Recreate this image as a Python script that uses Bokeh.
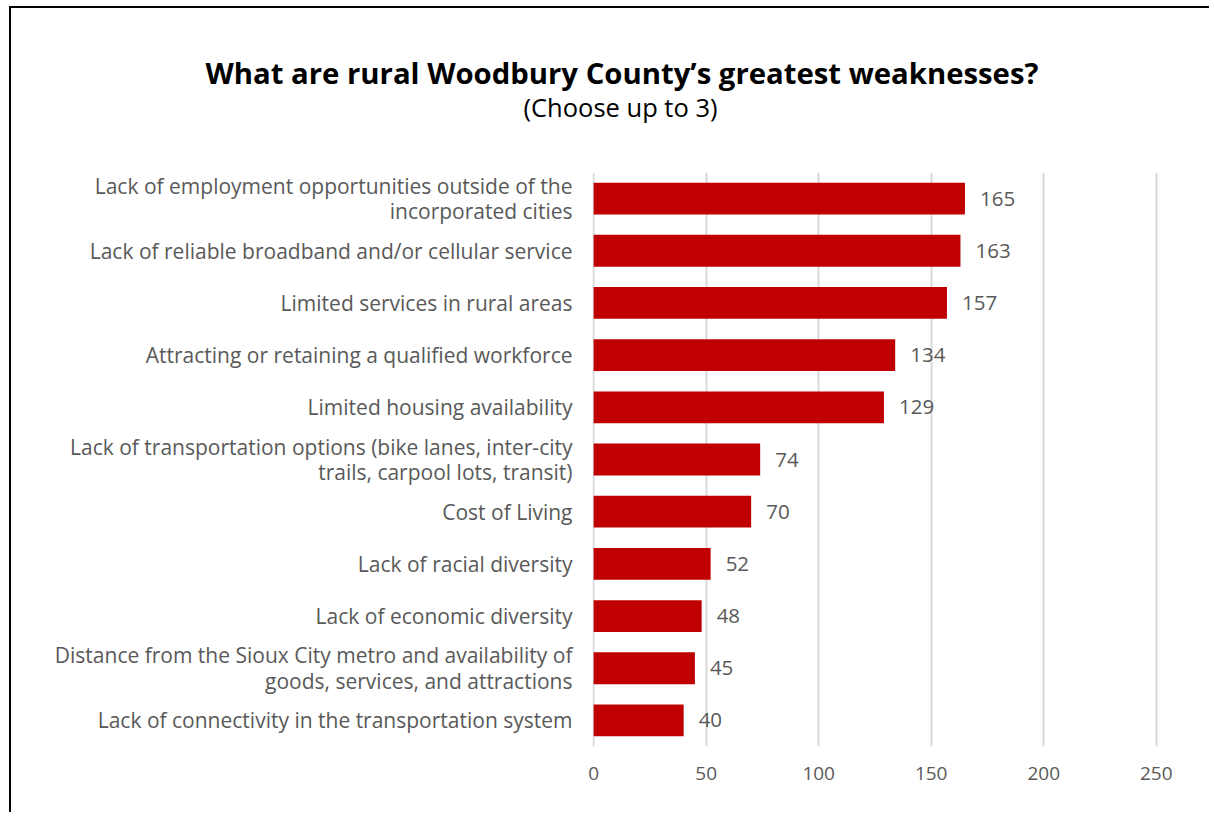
from bokeh.plotting import figure
from bokeh.models import ColumnDataSource, Title, Range1d, FixedTicker
from bokeh.core.properties import value
from bokeh.embed import file_html
from bokeh.resources import INLINE

categories = [
    "Lack of employment opportunities outside of the\nincorporated cities",
    "Lack of reliable broadband and/or cellular service",
    "Limited services in rural areas",
    "Attracting or retaining a qualified workforce",
    "Limited housing availability",
    "Lack of transportation options (bike lanes, inter-city\ntrails, carpool lots, transit)",
    "Cost of Living",
    "Lack of racial diversity",
    "Lack of economic diversity",
    "Distance from the Sioux City metro and availability of\ngoods, services, and attractions",
    "Lack of connectivity in the transportation system",
]
counts = [165, 163, 157, 134, 129, 74, 70, 52, 48, 45, 40]
x_ticks = [0, 50, 100, 150, 200, 250]
title_text = "What are rural Woodbury County\u2019s greatest weaknesses?"
subtitle_text = "(Choose up to 3)"

FONT = "Open Sans"
GREY = "#595959"

src = ColumnDataSource(dict(cat=categories, val=counts, lab=[str(v) for v in counts]))

p = figure(
    width=1200, height=806,
    y_range=list(reversed(categories)),
    x_range=Range1d(-0.5, 251),
    output_backend="svg", toolbar_location=None,
    min_border_left=581, min_border_right=53,
    min_border_top=164, min_border_bottom=68,
)
p.styles = {"border-left": "2px solid black", "border-top": "2px solid black",
            "margin-left": "9px", "margin-top": "6px"}
p.outline_line_color = None
p.background_fill_color = "white"
p.border_fill_color = "white"

p.hbar(y="cat", right="val", left=0, height=0.61, source=src,
       fill_color="#C00000", line_color=None)

p.text(x="val", y="cat", text="lab", source=src, x_offset=15,
       text_baseline="middle", text_align="left",
       text_font=value(FONT), text_font_size="20.5px", text_color=GREY)

# x axis
p.xaxis.ticker = FixedTicker(ticks=x_ticks)
p.xaxis.axis_line_color = None
p.xaxis.major_tick_line_color = None
p.xaxis.minor_tick_line_color = None
p.xaxis.major_label_standoff = 14
p.xaxis.major_label_text_font = FONT
p.xaxis.major_label_text_font_size = "19px"
p.xaxis.major_label_text_color = GREY

# y axis
p.yaxis.axis_line_color = None
p.yaxis.major_tick_line_color = None
p.yaxis.major_tick_out = 0
p.yaxis.major_label_standoff = 20
p.yaxis.major_label_text_font = FONT
p.yaxis.major_label_text_font_size = "21px"
p.yaxis.major_label_text_color = GREY
p.yaxis.major_label_text_line_height = 0.92

p.xgrid.grid_line_color = "#d9d9d9"
p.xgrid.grid_line_width = 2
p.ygrid.grid_line_color = None

# spacer (closest to the plot), then subtitle, then main title on top
p.add_layout(Title(text=" ", align="left", standoff=46,
                   text_font=FONT, text_font_size="1px"), "above")
p.add_layout(Title(text=subtitle_text, align="left", offset=-69, standoff=0,
                   text_font=FONT, text_font_style="normal",
                   text_font_size="25.5px", text_color="black"), "above")
p.add_layout(Title(text=title_text, align="left", offset=-387, standoff=-10,
                   text_font=FONT, text_font_style="bold",
                   text_font_size="29.3px", text_color="black"), "above")

open("out.html", "w").write(file_html(p, INLINE))
